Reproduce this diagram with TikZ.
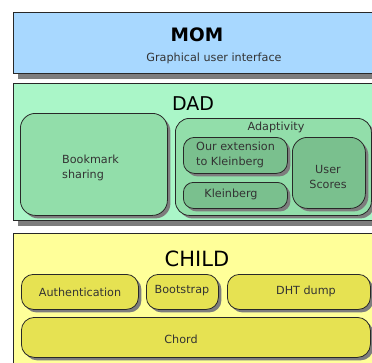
\documentclass[tikz,border=0pt]{standalone}
\usepackage{fontspec}
\setmainfont{DejaVu Sans}
\usetikzlibrary{shadows}
\definecolor{momfill}{RGB}{168,216,255}
\definecolor{dadfill}{RGB}{170,246,200}
\definecolor{dadin}{RGB}{146,222,170}
\definecolor{daddark}{RGB}{122,192,142}
\definecolor{childfill}{RGB}{255,255,153}
\definecolor{childin}{RGB}{230,226,82}
\definecolor{edge}{RGB}{40,40,40}
\definecolor{shad}{RGB}{125,125,125}
\tikzset{
  layer/.style={draw=edge, line width=0.8pt, inner sep=0pt, anchor=north west,
    drop shadow={shadow xshift=5pt, shadow yshift=-6pt, fill=shad, opacity=1}},
  part/.style={draw=edge, line width=0.8pt, inner sep=0pt, anchor=north west, rounded corners=13pt,
    drop shadow={shadow xshift=3pt, shadow yshift=-3pt, fill=shad, opacity=1}},
  title/.style={font=\fontsize{20}{22}\selectfont},
  lbl/.style={font=\fontsize{11.2}{15.5}\selectfont, text=black!80, align=center, inner sep=0pt},
}
\newcommand{\bx}[6]{\node[#6, minimum width=#4pt-#2pt, minimum height=#5pt-#3pt] (#1) at (#2pt,-#3pt) {};}
\begin{document}
\begin{tikzpicture}[x=1pt,y=-1pt]
\useasboundingbox (0,0) rectangle (372,362);
\clip (0,0) rectangle (372,362);
% MOM
\bx{mom}{13}{12}{392}{73}{layer, fill=momfill}
\node[title, font=\fontsize{18.5}{22}\selectfont\bfseries] (momt) at (197,35) {MOM};
\node[lbl] (momg) at (214,58) {Graphical user interface};
% DAD
\bx{dad}{13}{83}{392}{220}{layer, fill=dadfill}
\node[title, font=\fontsize{19}{22}\selectfont] (dadt) at (193,104) {DAD};
\bx{book}{20}{113}{167}{215}{part, fill=dadin, rounded corners=15pt}
\node[lbl, align=left, anchor=west] (bookt) at (62,168) {Bookmark\\sharing};
\bx{adapt}{175}{118}{371}{215}{part, fill=dadin, rounded corners=14pt}
\node[lbl] (adaptt) at (276,127) {Adaptivity};
\bx{ext}{183}{137}{287}{173}{part, fill=daddark, rounded corners=11pt}
\node[lbl, align=left, anchor=west] (extt) at (196,155) {Our extension\\to Kleinberg};
\bx{klein}{183}{182}{287}{208}{part, fill=daddark, rounded corners=10pt}
\node[lbl] (kleint) at (231,194) {Kleinberg};
\bx{user}{292}{137}{365}{208}{part, fill=daddark, rounded corners=15pt}
\node[lbl] (usert) at (328,177) {User\\Scores};
% CHILD
\bx{child}{13}{233}{392}{380}{layer, fill=childfill}
\node[title, font=\fontsize{21}{22}\selectfont] (childt) at (197,259) {CHILD};
\bx{auth}{21}{274}{138}{309}{part, fill=childin, rounded corners=12pt}
\node[lbl] (autht) at (80,292) {Authentication};
\bx{boot}{146}{274}{218}{309}{part, fill=childin, rounded corners=12pt}
\node[lbl] (boott) at (182,291) {Bootstrap};
\bx{dht}{227}{274}{370}{309}{part, fill=childin, rounded corners=12pt}
\node[lbl] (dhtt) at (306,291) {DHT dump};
\bx{chord}{21}{317}{370}{357}{part, fill=childin, rounded corners=13pt}
\node[lbl] (chordt) at (181,339) {Chord};
\end{tikzpicture}
\end{document}
